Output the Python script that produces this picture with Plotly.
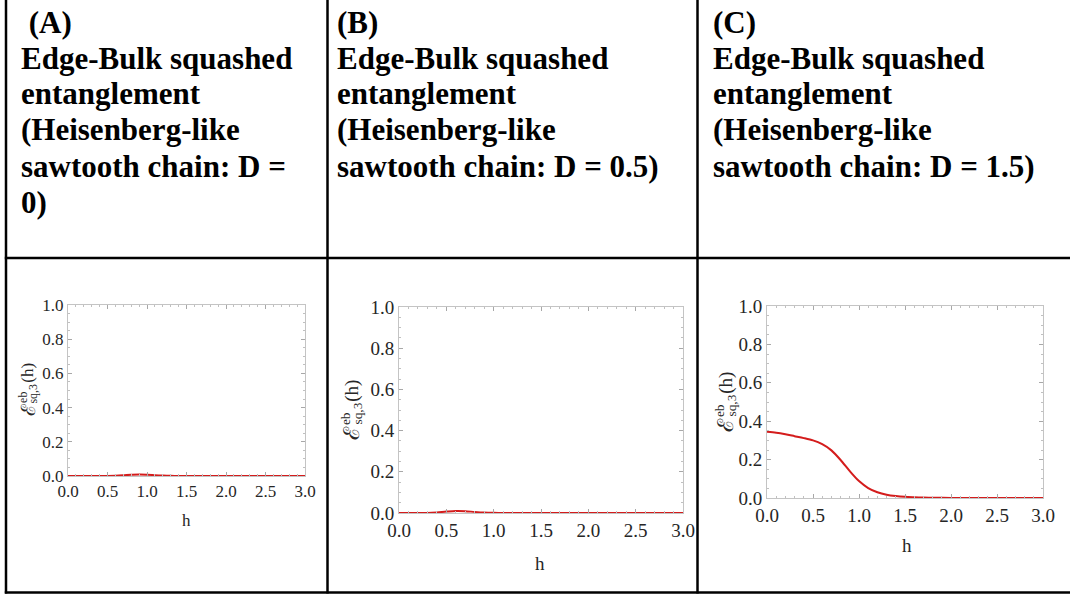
import plotly.graph_objects as go

W, H = 1070, 596

# field strength h (shared by all three panels)
h = [0.0, 0.1, 0.2, 0.3, 0.4, 0.5, 0.6, 0.7, 0.8, 0.9, 1.0, 1.1, 1.2, 1.3,
     1.4, 1.5, 1.6, 1.7, 1.8, 2.0, 2.2, 2.5, 2.8, 3.0]

# edge-bulk squashed entanglement for D = 0, 0.5, 1.5
esq_d0 = [0.0, 0.0, 0.0, 0.0, 0.0, 0.0005, 0.0015, 0.004, 0.007, 0.009, 0.008,
          0.005, 0.0025, 0.001, 0.0003, 0.0, 0.0, 0.0, 0.0, 0.0, 0.0, 0.0, 0.0, 0.0]
esq_d05 = [0.0, 0.0, 0.0, 0.0005, 0.003, 0.007, 0.010, 0.009, 0.005, 0.002, 0.0007,
           0.0002, 0.0, 0.0, 0.0, 0.0, 0.0, 0.0, 0.0, 0.0, 0.0, 0.0, 0.0, 0.0]
esq_d15 = [0.345, 0.340, 0.332, 0.322, 0.312, 0.300, 0.280, 0.248, 0.198, 0.140,
           0.088, 0.052, 0.030, 0.017, 0.010, 0.006, 0.004, 0.0025, 0.0015,
           0.0006, 0.0002, 0.0, 0.0, 0.0]

headers = [
    [" (A)", "Edge-Bulk squashed", "entanglement", "(Heisenberg-like",
     "sawtooth chain: D =", "0)"],
    ["(B)", "Edge-Bulk squashed", "entanglement", "(Heisenberg-like",
     "sawtooth chain: D = 0.5)"],
    ["(C)", "Edge-Bulk squashed", "entanglement", "(Heisenberg-like",
     "sawtooth chain: D = 1.5)"],
]
x_ticks = [0.0, 0.5, 1.0, 1.5, 2.0, 2.5, 3.0]
y_ticks = [0.0, 0.2, 0.4, 0.6, 0.8, 1.0]


def px(x):
    return x / W


def py(y):
    return 1 - y / H


# panel geometry in pixels: frame box, tick font, y-label centre, x-label centre
panels = [
    dict(box=(68, 305, 305, 476), fs=17, ylab=(28, 390), xlab=(186, 520), data=esq_d0),
    dict(box=(399, 683, 307, 513), fs=19, ylab=(352, 410), xlab=(540, 563), data=esq_d05),
    dict(box=(767, 1043, 306, 498), fs=19, ylab=(726, 402), xlab=(907, 545), data=esq_d15),
]

fig = go.Figure()
layout = dict(
    width=W, height=H, margin=dict(l=0, r=0, t=0, b=0, autoexpand=False),
    paper_bgcolor="white", plot_bgcolor="white", showlegend=False,
)
annotations = []
shapes = []
SERIF = "Liberation Serif, Times New Roman, serif"
TXT = "#262626"

for i, p in enumerate(panels):
    x0, x1, y0, y1 = p["box"]
    xa = "xaxis" if i == 0 else f"xaxis{i+1}"
    ya = "yaxis" if i == 0 else f"yaxis{i+1}"
    xr = "x" if i == 0 else f"x{i+1}"
    yr = "y" if i == 0 else f"y{i+1}"
    fig.add_trace(go.Scatter(
        x=h, y=p["data"], mode="lines", xaxis=xr, yaxis=yr,
        line=dict(color="#d41c1c", width=2, shape="spline", smoothing=0.8),
        hoverinfo="skip"))
    common = dict(
        showline=True, linecolor="#c4c4c4", linewidth=1, mirror="ticks",
        ticks="inside", ticklen=4, tickcolor="#a8a8a8", tickwidth=1,
        showgrid=False, zeroline=False, automargin=False,
        tickfont=dict(family=SERIF, size=p["fs"], color=TXT),
    )
    layout[xa] = dict(
        domain=[px(x0), px(x1)], range=[0, 3], anchor=yr,
        tickvals=x_ticks, ticktext=[f"{v:.1f}" for v in x_ticks],
        minor=dict(ticks="inside", ticklen=2, tickcolor="#c0c0c0", dtick=0.1),
        **common)
    layout[ya] = dict(
        domain=[py(y1), py(y0)], range=[0, 1], anchor=xr,
        tickvals=y_ticks, ticktext=[f"{v:.1f}" for v in y_ticks],
        minor=dict(ticks="inside", ticklen=2, tickcolor="#c0c0c0", dtick=0.05),
        **common)

    # x-axis title
    hx, hy = p["xlab"]
    annotations.append(dict(
        x=px(hx), y=py(hy), xref="paper", yref="paper", text="h",
        showarrow=False, xanchor="center", yanchor="middle",
        font=dict(family=SERIF, size=p["fs"], color=TXT)))

    # y-axis title: script E with stacked super/subscript, rotated
    fs = p["fs"]
    cx, cy = p["ylab"]
    fE = fs * 1.15
    fsm = fs * 0.7
    wE = 0.72 * fE
    wEB = 0.95 * fsm
    wSQ = 1.64 * fsm
    wH = 1.17 * fs
    total = wE + max(wEB, wSQ) + 1 + wH
    yb = cy + total / 2
    parts = [
        ("ℰ", fE, cx, yb - wE / 2),
        ("eb", fsm, cx - 0.33 * fs, yb - wE - wEB / 2),
        ("sq,3", fsm, cx + 0.3 * fs, yb - wE - wSQ / 2),
        ("(h)", fs, cx, yb - wE - max(wEB, wSQ) - 1 - wH / 2),
    ]
    for txt, size, ax, ay in parts:
        annotations.append(dict(
            x=px(ax), y=py(ay), xref="paper", yref="paper", text=txt,
            textangle=-90, showarrow=False, xanchor="center", yanchor="middle",
            font=dict(family=SERIF, size=size, color=TXT)))

# header cells
header_x = [19, 335, 711]
for lines, hx in zip(headers, header_x):
    for k, line in enumerate(lines):
        annotations.append(dict(
            x=px(hx), y=py(22 + 36 * k), xref="paper", yref="paper",
            text=f"<b>{line}</b>", showarrow=False,
            xanchor="left", yanchor="middle",
            font=dict(family=SERIF, size=31, color="black")))

# table rules
line_style = dict(color="black", width=2.5)
for xv in (6, 327.5, 697.5):
    shapes.append(dict(type="line", xref="paper", yref="paper",
                       x0=px(xv), x1=px(xv), y0=py(0), y1=py(593.5), line=line_style))
for yv in (258, 592.5):
    shapes.append(dict(type="line", xref="paper", yref="paper",
                       x0=px(4.8), x1=1, y0=py(yv), y1=py(yv), line=line_style))

layout["annotations"] = annotations
layout["shapes"] = shapes
fig.update_layout(**layout)
fig.write_html(
    "out.html",
    post_script="document.body.style.margin='0';document.body.style.overflow='hidden';",
)
